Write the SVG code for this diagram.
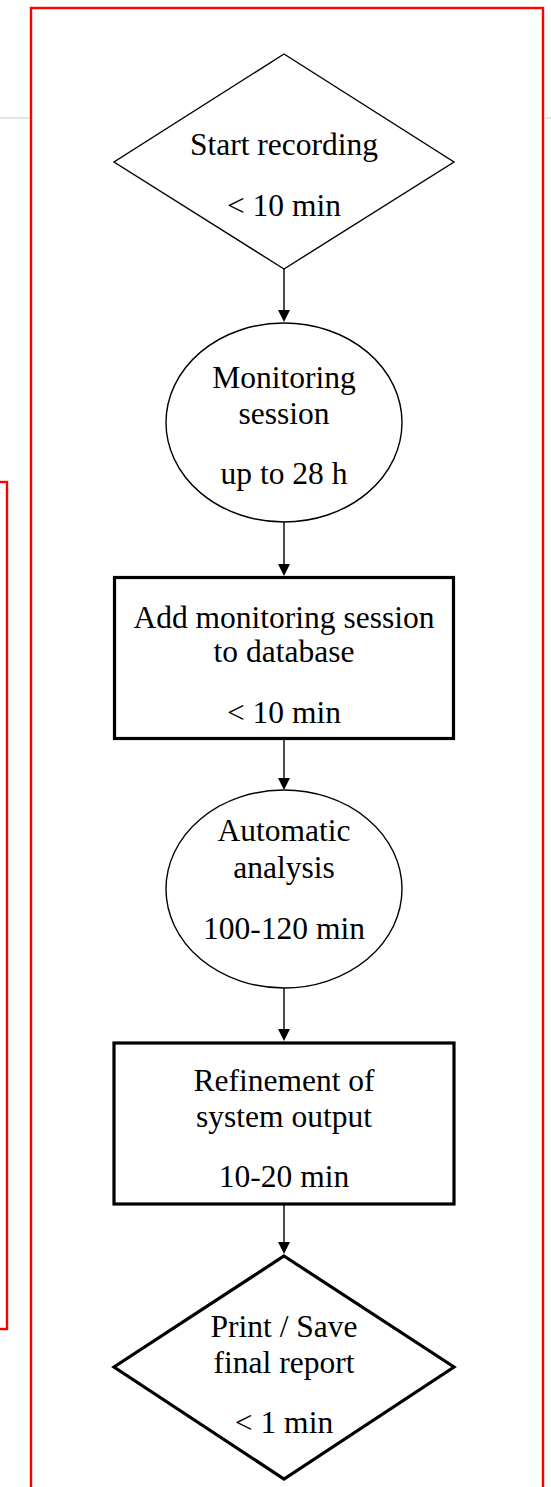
<svg xmlns="http://www.w3.org/2000/svg" width="551" height="1487" viewBox="0 0 551 1487">
<defs>
<style>
.t{font-family:"Liberation Serif","Times New Roman",serif;font-size:31.5px;fill:#000;text-anchor:middle}
.thin{fill:#fff;stroke:#000;stroke-width:1.4}
.thick{fill:#fff;stroke:#000;stroke-width:3.2}
.conn{stroke:#000;stroke-width:1.4;fill:none}
.head{fill:#000}
.frame{fill:none;stroke:#ff0000;stroke-width:2.4}
</style>
</defs>
<rect width="551" height="1487" fill="#fff"/>
<line x1="0" y1="118" x2="30" y2="118" stroke="#ddd" stroke-width="1.5"/>
<line x1="545" y1="118" x2="551" y2="118" stroke="#ddd" stroke-width="1.5"/>
<rect class="frame" x="-20" y="482" width="27" height="847"/>
<rect class="frame" x="31" y="8" width="512" height="1500"/>
<g id="connectors">
<line class="conn" x1="284" y1="269" x2="284" y2="311"/>
<polygon class="head" points="278,310 290,310 284,322"/>
<line class="conn" x1="284" y1="522" x2="284" y2="565"/>
<polygon class="head" points="278,564 290,564 284,576"/>
<line class="conn" x1="284" y1="739" x2="284" y2="779"/>
<polygon class="head" points="278,778 290,778 284,790"/>
<line class="conn" x1="284" y1="988" x2="284" y2="1030"/>
<polygon class="head" points="278,1029 290,1029 284,1041"/>
<line class="conn" x1="284" y1="1204" x2="284" y2="1243"/>
<polygon class="head" points="278,1242 290,1242 284,1254"/>
</g>
<g id="start">
<polygon class="thin" points="284,54 454,162 284,269 114,162"/>
<text class="t" x="284" y="155">Start recording</text>
<text class="t" x="284" y="216">&lt; 10 min</text>
</g>
<g id="monitoring">
<ellipse class="thin" cx="284" cy="422.5" rx="118" ry="99.5"/>
<text class="t" x="284" y="388">Monitoring</text>
<text class="t" x="284" y="424">session</text>
<text class="t" x="284" y="484">up to 28 h</text>
</g>
<g id="add">
<rect class="thick" x="114.5" y="577.5" width="339" height="161"/>
<text class="t" x="284" y="628">Add monitoring session</text>
<text class="t" x="284" y="662">to database</text>
<text class="t" x="284" y="723">&lt; 10 min</text>
</g>
<g id="analysis">
<ellipse class="thin" cx="284" cy="889" rx="118" ry="99"/>
<text class="t" x="284" y="841">Automatic</text>
<text class="t" x="284" y="878">analysis</text>
<text class="t" x="284" y="939">100-120 min</text>
</g>
<g id="refine">
<rect class="thick" x="114" y="1043" width="340" height="161"/>
<text class="t" x="284" y="1091">Refinement of</text>
<text class="t" x="284" y="1127">system output</text>
<text class="t" x="284" y="1187">10-20 min</text>
</g>
<g id="report">
<polygon class="thick" points="284,1256 454,1367 284,1479 114,1367"/>
<text class="t" x="284" y="1337">Print / Save</text>
<text class="t" x="284" y="1373">final report</text>
<text class="t" x="284" y="1433">&lt; 1 min</text>
</g>
</svg>
